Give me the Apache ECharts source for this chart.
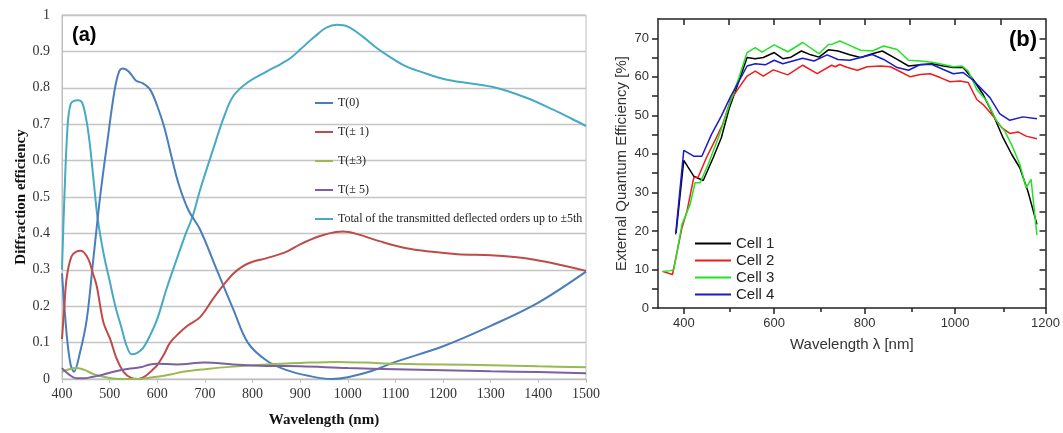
<!DOCTYPE html>
<html>
<head>
<meta charset="utf-8">
<script src="https://cdn.jsdelivr.net/npm/echarts@6/dist/echarts.min.js"></script>
<style>
html,body{margin:0;padding:0;background:#fff;}
#chart{width:1063px;height:433px;}
</style>
</head>
<body>
<div id="chart"></div>
<script>
// ---------- Panel (a): diffraction efficiency ----------
const aXTicks = [400, 500, 600, 700, 800, 900, 1000, 1100, 1200, 1300, 1400, 1500];
const aNames = ['T(0)', 'T(\u00b1 1)', 'T(\u00b13)', 'T(\u00b1 5)', 'Total of the transmitted deflected orders up to \u00b15th'];

const t0Wl  = [400, 410, 418, 425, 438, 452, 465, 480, 495, 510, 520, 528, 540, 555, 570, 585, 600, 615, 630, 645, 665, 690, 725, 760, 790, 830, 870, 920, 965, 1000, 1050, 1100, 1200, 1300, 1400, 1500];
const t0Val = [0.29, 0.12, 0.04, 0.02, 0.074, 0.164, 0.32, 0.50, 0.65, 0.79, 0.845, 0.853, 0.845, 0.82, 0.812, 0.795, 0.75, 0.69, 0.61, 0.535, 0.465, 0.41, 0.30, 0.19, 0.10, 0.05, 0.025, 0.008, 0.0, 0.005, 0.022, 0.047, 0.09, 0.146, 0.21, 0.295];

const t1Wl  = [400, 405, 410, 420, 430, 440, 455, 465, 473, 487, 501, 515, 530, 545, 560, 575, 590, 600, 615, 627, 645, 662, 690, 717, 740, 760, 780, 800, 830, 872, 900, 940, 975, 990, 1020, 1068, 1120, 1172, 1230, 1300, 1350, 1389, 1440, 1500];
const t1Val = [0.11, 0.20, 0.28, 0.337, 0.35, 0.352, 0.33, 0.29, 0.255, 0.155, 0.11, 0.055, 0.018, 0.003, 0.0, 0.008, 0.025, 0.038, 0.07, 0.10, 0.125, 0.145, 0.17, 0.22, 0.26, 0.29, 0.31, 0.322, 0.332, 0.35, 0.37, 0.392, 0.404, 0.405, 0.398, 0.378, 0.36, 0.35, 0.343, 0.34, 0.335, 0.328, 0.315, 0.297];

const t3Wl  = [400, 415, 431, 447, 465, 480, 500, 520, 560, 580, 600, 630, 654, 700, 759, 830, 900, 977, 1040, 1100, 1200, 1300, 1400, 1500];
const t3Val = [0.02, 0.027, 0.03, 0.025, 0.014, 0.008, 0.003, 0.0, 0.0, 0.003, 0.006, 0.013, 0.02, 0.027, 0.034, 0.04, 0.044, 0.047, 0.045, 0.042, 0.04, 0.038, 0.035, 0.032];

const t5Wl  = [400, 415, 431, 445, 465, 480, 500, 515, 540, 564, 585, 600, 640, 700, 759, 830, 900, 1000, 1100, 1200, 1300, 1400, 1500];
const t5Val = [0.03, 0.012, 0.002, 0.002, 0.006, 0.01, 0.017, 0.022, 0.028, 0.032, 0.04, 0.042, 0.04, 0.045, 0.04, 0.036, 0.035, 0.03, 0.027, 0.024, 0.021, 0.019, 0.016];

const totWl  = [400, 405, 412, 418, 425, 435, 442, 450, 458, 466, 475, 488, 500, 512, 525, 536, 546, 558, 570, 585, 600, 620, 641, 660, 675, 690, 717, 740, 759, 788, 830, 860, 880, 900, 930, 955, 977, 1000, 1032, 1060, 1088, 1120, 1151, 1208, 1305, 1376, 1431, 1470, 1500];
const totVal = [0.30, 0.50, 0.70, 0.755, 0.764, 0.766, 0.76, 0.72, 0.65, 0.55, 0.44, 0.34, 0.27, 0.20, 0.14, 0.09, 0.068, 0.072, 0.085, 0.12, 0.165, 0.25, 0.33, 0.40, 0.45, 0.52, 0.63, 0.72, 0.776, 0.813, 0.845, 0.866, 0.882, 0.905, 0.94, 0.965, 0.973, 0.968, 0.94, 0.91, 0.885, 0.86, 0.845, 0.822, 0.802, 0.772, 0.74, 0.715, 0.695];

// ---------- Panel (b): external quantum efficiency ----------
const bNames = ['Cell 1', 'Cell 2', 'Cell 3', 'Cell 4'];
const bXLabels = [400, 600, 800, 1000, 1200];
const bXMinor = [500, 700, 900, 1100];
const bYLabels = [0, 10, 20, 30, 40, 50, 60, 70];

const c1Wl  = [383, 400, 422, 443, 465, 483, 501, 522, 540, 558, 576, 600, 619, 637, 660, 681, 699, 720, 741, 767, 791, 817, 839, 872, 897, 923, 949, 974, 996, 1018, 1040, 1062, 1084, 1106, 1125, 1143, 1161, 1181];
const c1Val = [19.5, 38.3, 34.2, 33.1, 39.0, 44.2, 52.0, 58.9, 65.0, 64.7, 65.0, 66.3, 64.7, 65.1, 66.7, 65.7, 65.1, 67.0, 66.7, 65.7, 65.0, 66.0, 66.7, 64.5, 62.8, 63.1, 63.4, 62.8, 62.4, 62.4, 59.3, 55.4, 50.2, 44.2, 39.9, 36.4, 30.3, 21.7];

const c2Wl  = [353, 375, 396, 407, 422, 432, 450, 472, 486, 504, 522, 540, 558, 576, 598, 630, 663, 695, 727, 735, 745, 762, 784, 806, 835, 857, 879, 901, 923, 945, 967, 989, 1011, 1029, 1048, 1062, 1084, 1103, 1121, 1139, 1157, 1181];
const c2Val = [9.5, 8.7, 20.8, 25.1, 33.8, 34.0, 39.0, 44.2, 47.7, 54.1, 57.2, 60.2, 61.5, 60.2, 61.8, 60.5, 63.0, 60.8, 63.0, 62.6, 63.2, 62.4, 61.7, 62.6, 62.8, 62.6, 61.3, 60.0, 60.6, 60.8, 59.8, 58.7, 58.9, 58.5, 54.1, 52.8, 49.8, 46.8, 45.3, 45.7, 44.6, 43.9];

const c3Wl  = [353, 371, 378, 396, 414, 425, 436, 454, 479, 501, 522, 540, 558, 573, 600, 630, 663, 699, 720, 727, 745, 762, 791, 817, 842, 872, 897, 923, 949, 974, 996, 1015, 1029, 1048, 1070, 1092, 1110, 1128, 1143, 1157, 1168, 1181];
const c3Val = [9.5, 9.7, 10.0, 21.7, 26.9, 32.5, 32.5, 37.3, 45.0, 52.8, 59.8, 66.3, 67.6, 66.4, 68.3, 66.5, 68.9, 66.0, 68.4, 68.4, 69.3, 68.4, 66.9, 66.7, 68.0, 67.1, 64.3, 64.1, 63.8, 63.2, 62.6, 62.8, 61.5, 56.7, 53.7, 48.5, 45.9, 41.6, 37.3, 31.2, 33.4, 18.9];

const c4Wl  = [382, 400, 422, 440, 461, 483, 504, 522, 540, 558, 580, 600, 619, 641, 663, 688, 717, 741, 767, 791, 817, 842, 872, 897, 923, 949, 974, 996, 1018, 1040, 1077, 1099, 1121, 1150, 1181];
const c4Val = [19.1, 40.9, 39.4, 39.4, 45.0, 49.8, 55.0, 58.9, 62.8, 63.4, 63.1, 64.3, 63.4, 64.1, 64.8, 64.1, 65.7, 64.5, 64.3, 65.0, 65.8, 64.5, 62.4, 61.7, 63.2, 63.2, 61.9, 60.8, 61.1, 59.1, 54.6, 50.4, 48.7, 49.6, 49.1];

function zip(xs, ys) { return xs.map((x, i) => [x, ys[i]]); }
function steps(a, b, s) { const r = []; for (let v = a; v <= b + 1e-9; v += s) r.push(v); return r; }
const plain = v => String(Math.round(v * 1000) / 1000);

const SERIF = 'Liberation Serif';
const SANS = 'Liberation Sans';
const aColors = ['#4A7EBB', '#BE4B48', '#98B954', '#7D60A0', '#46AAC5'];
const bColors = ['#000000', '#EE1C1C', '#22E322', '#1A1ACC'];

const aData = [zip(t0Wl, t0Val), zip(t1Wl, t1Val), zip(t3Wl, t3Val), zip(t5Wl, t5Val), zip(totWl, totVal)];
const bData = [zip(c1Wl, c1Val), zip(c2Wl, c2Val), zip(c3Wl, c3Val), zip(c4Wl, c4Val)];

const BX_MIN = 343, BX_MAX = 1200, BY_MAX = 75;

const series = [];
aNames.forEach((n, i) => series.push({
  name: n, type: 'line', xAxisIndex: 0, yAxisIndex: 0, data: aData[i],
  smooth: 0.35, symbol: 'none', lineStyle: { color: aColors[i], width: 2 }, itemStyle: { color: aColors[i] }, z: i === 4 ? 3 : 4
}));
bNames.forEach((n, i) => series.push({
  name: n, type: 'line', xAxisIndex: 1, yAxisIndex: 1, data: bData[i],
  symbol: 'none', lineStyle: { color: bColors[i], width: 1.5 }, itemStyle: { color: bColors[i] }
}));

const option = {
  animation: false,
  backgroundColor: '#ffffff',
  grid: [
    { left: 62, top: 15, width: 524, height: 365, show: true, borderColor: '#BFBFBF', borderWidth: 1, backgroundColor: 'transparent' },
    { left: 658, top: 19, width: 391, height: 289 },
    { left: 658, top: 19, width: 391, height: 289 }
  ],
  xAxis: [
    { gridIndex: 0, type: 'value', min: 400, max: 1500, interval: 100,
      axisLine: { show: true, lineStyle: { color: '#BFBFBF', width: 1 } },
      axisTick: { show: true, length: 4, lineStyle: { color: '#BFBFBF' } },
      axisLabel: { fontFamily: SERIF, fontSize: 14, color: '#333', margin: 8, formatter: plain },
      splitLine: { show: false },
      name: 'Wavelength (nm)', nameLocation: 'middle', nameGap: 34,
      nameTextStyle: { fontFamily: SERIF, fontSize: 15, fontWeight: 'bold', color: '#111' } },
    { gridIndex: 1, type: 'value', min: BX_MIN, max: BX_MAX, position: 'bottom',
      axisLine: { show: true, onZero: false, lineStyle: { color: '#222', width: 1.5 } },
      axisTick: { show: true, length: 6, customValues: bXLabels, lineStyle: { color: '#222', width: 1.5 } },
      axisLabel: { customValues: bXLabels, fontFamily: SANS, fontSize: 13, color: '#333', margin: 9, formatter: plain },
      splitLine: { show: false },
      name: 'Wavelength \u03bb [nm]', nameLocation: 'middle', nameGap: 29,
      nameTextStyle: { fontFamily: SANS, fontSize: 15, color: '#333' } },
    { gridIndex: 1, type: 'value', min: BX_MIN, max: BX_MAX, position: 'top',
      axisLine: { show: true, onZero: false, lineStyle: { color: '#222', width: 1.5 } },
      axisTick: { show: true, inside: true, length: 6, customValues: steps(400, 1100, 100), lineStyle: { color: '#222', width: 1.5 } },
      axisLabel: { show: false }, splitLine: { show: false } },
    { gridIndex: 2, type: 'value', min: BX_MIN, max: BX_MAX, position: 'bottom',
      axisLine: { show: false },
      axisTick: { show: true, length: 4, customValues: bXMinor, lineStyle: { color: '#222', width: 1.5 } },
      axisLabel: { show: false }, splitLine: { show: false } }
  ],
  yAxis: [
    { gridIndex: 0, type: 'value', min: 0, max: 1, interval: 0.1,
      axisLine: { show: true, lineStyle: { color: '#BFBFBF', width: 1 } },
      axisTick: { show: false },
      axisLabel: { fontFamily: SERIF, fontSize: 14, color: '#333', margin: 12, formatter: plain },
      splitLine: { show: true, lineStyle: { color: '#C4C4C4', width: 1.3 } },
      name: 'Diffraction efficiency', nameLocation: 'middle', nameGap: 33,
      nameTextStyle: { fontFamily: SERIF, fontSize: 15, fontWeight: 'bold', color: '#111' } },
    { gridIndex: 1, type: 'value', min: 0, max: BY_MAX, position: 'left',
      axisLine: { show: true, onZero: false, lineStyle: { color: '#222', width: 1.5 } },
      axisTick: { show: true, length: 6, customValues: steps(0, 70, 5), lineStyle: { color: '#222', width: 1.5 } },
      axisLabel: { customValues: bYLabels, fontFamily: SANS, fontSize: 13, color: '#333', margin: 9, formatter: plain },
      splitLine: { show: false },
      name: 'External Quantum Efficiency [%]', nameLocation: 'middle', nameGap: 29,
      nameTextStyle: { fontFamily: SANS, fontSize: 15, color: '#333' } },
    { gridIndex: 1, type: 'value', min: 0, max: BY_MAX, position: 'right',
      axisLine: { show: true, onZero: false, lineStyle: { color: '#222', width: 1.5 } },
      axisTick: { show: true, inside: true, length: 6, customValues: steps(5, 70, 5), lineStyle: { color: '#222', width: 1.5 } },
      axisLabel: { show: false }, splitLine: { show: false } },
    { gridIndex: 2, type: 'value', min: 0, max: BY_MAX, show: false }
  ],
  legend: [
    { data: aNames, orient: 'vertical', left: 310, top: 91, icon: 'rect', itemWidth: 18, itemHeight: 2, itemGap: 15,
      textStyle: { fontFamily: SERIF, fontSize: 12, color: '#222', lineHeight: 14 } },
    { data: bNames, orient: 'vertical', left: 690, top: 230, icon: 'rect', itemWidth: 36, itemHeight: 2, itemGap: 0,
      textStyle: { fontFamily: SANS, fontSize: 15, color: '#222', lineHeight: 17 } }
  ],
  graphic: [
    { type: 'text', left: 72, top: 25, style: { text: '(a)', fontFamily: SANS, fontWeight: 'bold', fontSize: 20, fill: '#000' } },
    { type: 'text', left: 1009, top: 29, style: { text: '(b)', fontFamily: SANS, fontWeight: 'bold', fontSize: 22, fill: '#000' } }
  ],
  series: series
};

const chart = echarts.init(document.getElementById('chart'), null, { renderer: 'canvas' });
chart.setOption(option);
</script>
</body>
</html>
